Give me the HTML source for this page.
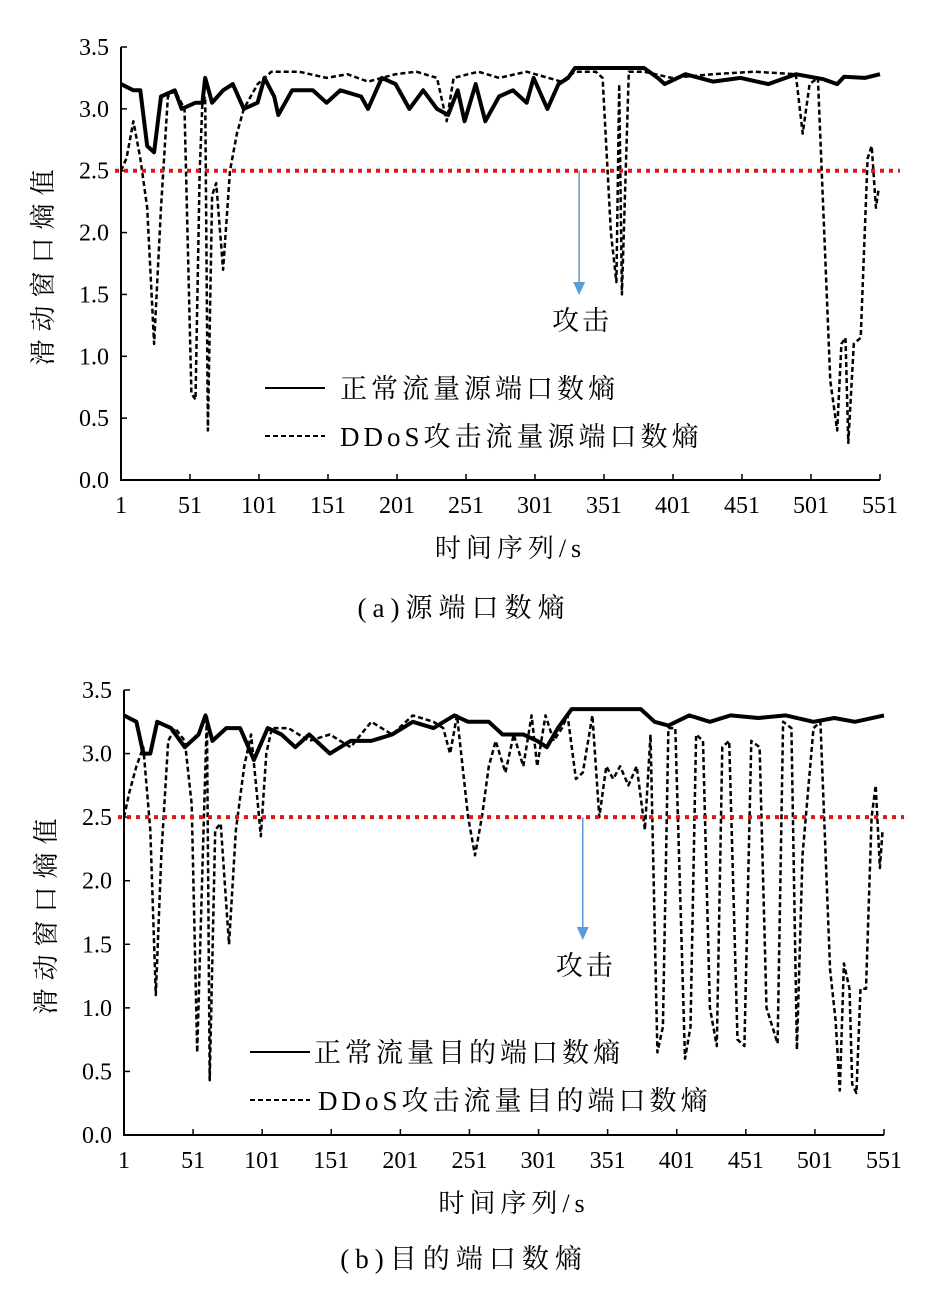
<!DOCTYPE html>
<html><head><meta charset="utf-8"><style>
html,body{margin:0;padding:0;background:#fff;}
svg{display:block;}
text{font-family:"Liberation Serif","Noto Serif CJK SC",serif;fill:#000;}
</style></head><body>
<svg id="s" width="927" height="1299" viewBox="0 0 927 1299"></svg>
<script>
const xTicks=[1,51,101,151,201,251,301,351,401,451,501,551];
const yTicks=[0.0,0.5,1.0,1.5,2.0,2.5,3.0,3.5];
const thresholdValue=2.5;
const attackIndex=333;
const aNormX=[1,10,15,20,25,30,40,45,55,60,62,67,75,82,90,100,105,112,115,125,140,150,160,175,180,190,200,210,220,230,238,245,250,258,265,275,285,295,300,310,318,325,330,380,390,395,410,430,450,470,490,510,520,525,540,551];
const aNormY=[3.2,3.15,3.15,2.7,2.65,3.1,3.15,3.0,3.05,3.05,3.25,3.05,3.15,3.2,3.0,3.05,3.25,3.1,2.95,3.15,3.15,3.05,3.15,3.1,3.0,3.25,3.2,3.0,3.15,3.0,2.95,3.15,2.9,3.2,2.9,3.1,3.15,3.05,3.25,3.0,3.2,3.25,3.33,3.33,3.25,3.2,3.28,3.22,3.25,3.2,3.28,3.24,3.2,3.26,3.25,3.28];
const aDdosX=[1,5,10,15,20,25,30,35,40,47,52,55,58,60,62,64,67,70,75,80,85,90,100,110,130,150,165,180,200,215,230,237,242,260,275,295,320,330,345,350,356,360,362,364,369,380,400,430,460,490,495,500,506,515,520,523,526,528,532,537,542,545,548,550];
const aDdosY=[2.5,2.6,2.9,2.6,2.2,1.1,2.2,3.1,3.15,3.0,0.7,0.65,2.5,3.05,3.1,0.4,2.3,2.4,1.7,2.5,2.8,3.0,3.2,3.3,3.3,3.25,3.28,3.22,3.28,3.3,3.25,2.9,3.25,3.3,3.25,3.3,3.22,3.3,3.3,3.25,2.0,1.6,3.2,1.5,3.3,3.3,3.25,3.28,3.3,3.28,2.8,3.2,3.25,0.8,0.4,1.1,1.15,0.3,1.1,1.15,2.6,2.7,2.2,2.35];
const bNormX=[1,10,15,20,25,35,45,55,60,65,75,85,95,105,115,125,135,150,165,180,195,210,225,240,250,265,275,290,300,307,315,325,360,375,385,395,410,425,440,460,480,500,515,530,551];
const bNormY=[3.3,3.25,3.0,3.0,3.25,3.2,3.05,3.15,3.3,3.1,3.2,3.2,2.95,3.2,3.15,3.05,3.15,3.0,3.1,3.1,3.15,3.25,3.2,3.3,3.25,3.25,3.15,3.15,3.1,3.05,3.2,3.35,3.35,3.35,3.25,3.22,3.3,3.25,3.3,3.28,3.3,3.25,3.28,3.25,3.3];
const bDdosX=[1,5,10,15,20,24,28,33,38,45,50,54,58,61,63,67,71,77,82,88,93,97,100,104,108,120,135,150,165,180,195,210,225,232,237,242,250,255,260,265,270,277,283,290,296,300,306,312,318,322,328,333,340,345,350,355,360,366,372,378,382,387,391,395,400,407,411,415,420,425,430,434,439,445,450,455,461,466,474,478,484,488,492,500,505,512,516,519,522,526,528,531,534,538,542,545,548,550];
const bDdosY=[2.5,2.7,2.9,3.05,2.4,1.1,2.2,3.1,3.2,3.1,2.6,0.65,2.2,3.3,0.43,2.4,2.45,1.5,2.4,2.9,3.15,2.7,2.35,3.0,3.2,3.2,3.1,3.15,3.05,3.25,3.15,3.3,3.25,3.2,3.0,3.3,2.5,2.2,2.5,2.9,3.1,2.85,3.15,2.9,3.3,2.9,3.3,3.1,3.2,3.3,2.8,2.85,3.3,2.5,2.9,2.8,2.9,2.75,2.9,2.4,3.15,0.65,0.85,3.2,3.2,0.6,0.85,3.15,3.1,1.0,0.7,3.05,3.1,0.75,0.7,3.1,3.05,1.0,0.72,3.25,3.2,0.67,2.2,3.2,3.25,1.3,0.9,0.35,1.35,1.15,0.4,0.33,1.15,1.15,2.5,2.75,2.1,2.4];

const NS='http://www.w3.org/2000/svg';
const svg=document.getElementById('s');
function mk(tag,attrs,parent){const e=document.createElementNS(NS,tag);for(const k in attrs)e.setAttribute(k,attrs[k]);(parent||svg).appendChild(e);return e;}

function chart(cfg){
  const g=mk('g',{});
  
  
  const sx=v=>cfg.x0+(v-1)*(cfg.x1-cfg.x0)/550;
  const sy=v=>cfg.y0-(v/3.5)*(cfg.y0-cfg.y1);
  const ax=mk('path',{d:`M${cfg.x0},${cfg.y1}V${cfg.y0}H${cfg.x1}`,fill:'none',stroke:'#000','stroke-width':2},g);
  
  
  yTicks.forEach(v=>{
    mk('line',{x1:cfg.x0,x2:cfg.x0+6,y1:sy(v),y2:sy(v),stroke:'#000','stroke-width':1.5},g);
    const t=mk('text',{x:cfg.x0-12,y:sy(v)+8,'text-anchor':'end','font-size':24},g);
    t.textContent=v.toFixed(1);
    
    
  });
  xTicks.forEach(v=>{
    mk('line',{x1:sx(v),x2:sx(v),y1:cfg.y0,y2:cfg.y0-6,stroke:'#000','stroke-width':1.5},g);
    const t=mk('text',{x:sx(v),y:cfg.y0+33,'text-anchor':'middle','font-size':24},g);
    t.textContent=v;
    
    
  });
  const line=(xs,ys,dash,w,nm)=>{
    const p=mk('path',{d:xs.map((x,i)=>(i?'L':'M')+sx(x).toFixed(1)+','+sy(ys[i]).toFixed(1)).join(''),fill:'none',stroke:'#000','stroke-width':w,'stroke-dasharray':dash,'stroke-linejoin':'round'},g);
    
    
  };
  line(cfg.dx,cfg.dy,'5,3',2.5,'ddos-series');
  line(cfg.nx,cfg.ny,'none',4,'normal-series');
  const th=mk('line',{x1:cfg.x0-6,x2:cfg.x1+20,y1:sy(thresholdValue),y2:sy(thresholdValue),stroke:'#e0161b','stroke-width':4,'stroke-dasharray':'4,5'},g);
  
  
  const axX=sx(attackIndex);
  const ar=mk('line',{x1:axX,x2:axX,y1:sy(thresholdValue),y2:cfg.arrowEnd-12,stroke:'#5b9bd5','stroke-width':1.5},g);
  
  
  mk('path',{d:`M${axX-6},${cfg.arrowEnd-13}L${axX+6},${cfg.arrowEnd-13}L${axX},${cfg.arrowEnd}Z`,fill:'#5b9bd5'},g);
  const at=mk('text',{x:axX+3,y:cfg.arrowEnd+35,'text-anchor':'middle','font-size':27,'letter-spacing':3},g);
  at.textContent='攻击';
  
  
  const yt=mk('text',{transform:`translate(${cfg.ytx},${(cfg.y0+cfg.y1)/2}) rotate(-90)`,'text-anchor':'middle','font-size':26,'letter-spacing':8},g);
  yt.textContent='滑动窗口熵值';
  
  
  const xt=mk('text',{x:(cfg.x0+cfg.x1)/2+10,y:cfg.y0+77,'text-anchor':'middle','font-size':26,'letter-spacing':5},g);
  xt.textContent='时间序列/s';
  
  
  const cap=mk('text',{x:464,y:cfg.capY,'text-anchor':'middle','font-size':27,'letter-spacing':6},g);
  cap.textContent=cfg.caption;
  
  
  cfg.legend.forEach((L,i)=>{
    const ly=cfg.legY+i*48;
    mk('line',{x1:L.lx1,x2:L.lx2,y1:ly,y2:ly,stroke:'#000','stroke-width':2,'stroke-dasharray':i?'5,3':'none'},g);
    const t=mk('text',{x:L.tx,y:ly+10,'font-size':27,'letter-spacing':4},g);
    t.textContent=L.text;
    
    
  });
}
chart({name:'chart-a-source-port',x0:121,x1:880,y0:480,y1:47,nx:aNormX,ny:aNormY,dx:aDdosX,dy:aDdosY,arrowEnd:295,ytx:52,capY:617,caption:'(a)源端口数熵',legY:388,
  legend:[{lx1:265,lx2:325,tx:340,text:'正常流量源端口数熵'},{lx1:265,lx2:325,tx:340,text:'DDoS攻击流量源端口数熵'}]});
chart({name:'chart-b-dest-port',x0:124,x1:884,y0:1135,y1:690,nx:bNormX,ny:bNormY,dx:bDdosX,dy:bDdosY,arrowEnd:940,ytx:55,capY:1268,caption:'(b)目的端口数熵',legY:1052,
  legend:[{lx1:250,lx2:310,tx:314,text:'正常流量目的端口数熵'},{lx1:250,lx2:310,tx:318,text:'DDoS攻击流量目的端口数熵'}]});
</script>
</body></html>
